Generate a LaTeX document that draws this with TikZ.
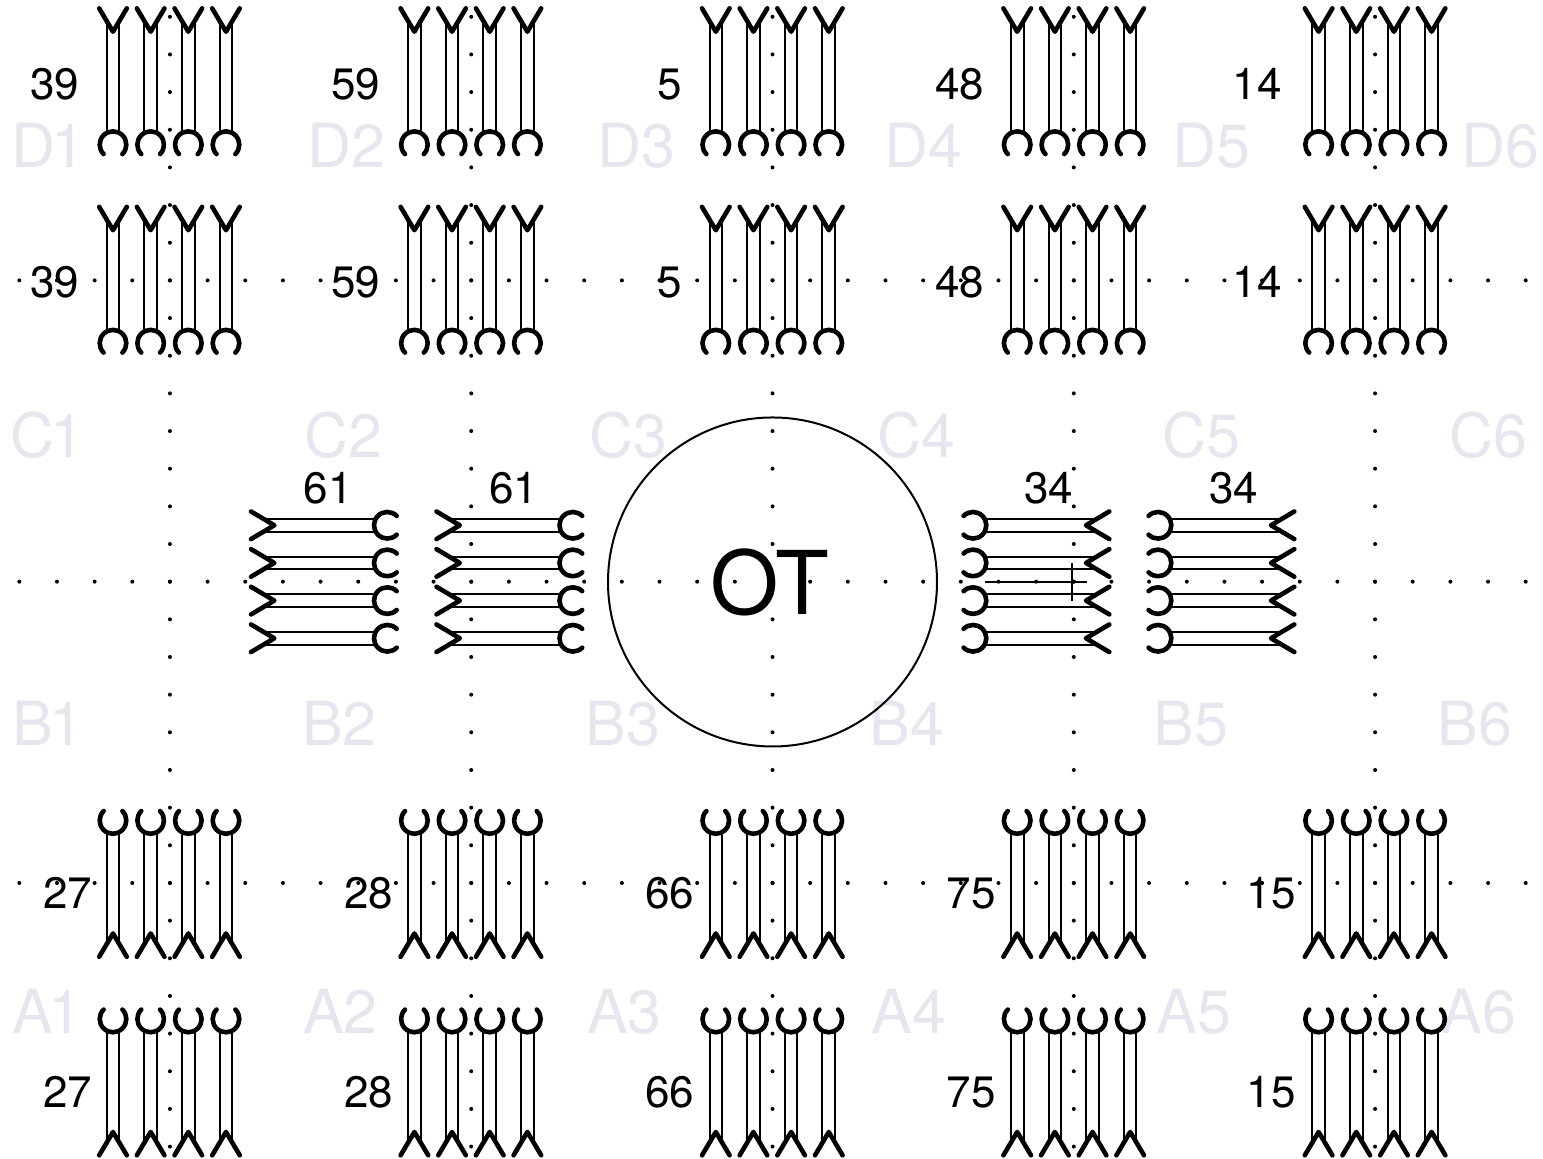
\documentclass[tikz,border=0pt]{standalone}
\usepackage{fontspec}
\setmainfont{TeX Gyre Heros}
\definecolor{faint}{HTML}{E6E6EF}
\newcommand{\lblfont}{\fontsize{22}{22}\selectfont}
\newcommand{\gridfont}{\fontsize{30.5}{30.5}\selectfont}
\newcommand{\otfont}{\fontsize{44}{44}\selectfont}
\tikzset{
  thinline/.style={line width=1pt,black},
  heavy/.style={line width=2.3pt,black,line cap=round,line join=round},
  griddot/.style={black},
  lbl/.style={anchor=base,inner sep=0pt,font=\lblfont},
  gridlbl/.style={anchor=base,inner sep=0pt,font=\gridfont,text=faint},
  plug/.pic={
    \draw[thinline] (-10.6,6.3) -- (101.3,6.3) (-10.6,-6.3) -- (101.3,-6.3);
    \draw[heavy] (-23.3,13.8) -- (0,0) -- (-23.3,-13.8);
    \draw[heavy] (113,0) ++(45:13.3) arc[start angle=45,end angle=315,radius=13.3];
  }
}
\begin{document}
\begin{tikzpicture}[x=.5pt,y=.5pt]
\useasboundingbox (0,0) rectangle (1543,1159);
% faint grid labels
\node[gridlbl] (gD1) at (48,1159-168) {D\kern-2pt 1};
\node[gridlbl] (gC1) at (47,1159-458) {C\kern-2pt 1};
\node[gridlbl] (gB1) at (48,1159-746) {B\kern-2pt 1};
\node[gridlbl] (gA1) at (47.5,1159-1034) {A\kern-2pt 1};
\foreach \t/\cx in {D2/346.5,D3/636,D4/923.5,D5/1211.5,D6/1500.5}
  \node[gridlbl] (g\t) at (\cx,1159-168) {\t};
\foreach \t/\cx in {C2/343,C3/628.5,C4/916,C5/1201.5,C6/1488.5}
  \node[gridlbl] (g\t) at (\cx,1159-458) {\t};
\foreach \t/\cx in {B2/339.5,B3/623,B4/907,B5/1191,B6/1475}
  \node[gridlbl] (g\t) at (\cx,1159-746) {\t};
\foreach \t/\cx in {A2/340.5,A3/624.5,A4/909,A5/1194,A6/1479}
  \node[gridlbl] (g\t) at (\cx,1159-1034) {\t};
% dot grid
\foreach \k in {-20,...,20}
  \foreach \ry in {280.4,581.7,883}
    \fill[griddot] ({772.5+37.66*\k},{1159-\ry}) circle[radius=2];
\foreach \c in {-16,-8,0,8,16}
  \foreach \k in {-15,...,15}
    \fill[griddot] ({772.5+37.66*\c},{1159-581.7-37.66*\k}) circle[radius=2];
% circle
\node[draw,circle,line width=1pt,minimum size=164.5pt,inner sep=0pt] (ot) at (772.5,1159-582) {};
\node[anchor=base,inner sep=0pt,font=\otfont] (otlabel) at (769.5,1159-615) {OT};
% vertical groups
\foreach \g in {0,1,2,3,4}
  \foreach \i in {0,1,2,3} {
    \pgfmathsetmacro{\px}{113+301.4*\g+37.66*\i}
    \pic[rotate=-90] at (\px,1159-31.7) {plug};
    \pic[rotate=-90] at (\px,1159-230.2) {plug};
    \pic[rotate=90] at (\px,1159-933.5) {plug};
    \pic[rotate=90] at (\px,1159-1132) {plug};
  }
% horizontal groups
\foreach \i in {0,1,2,3} {
  \pgfmathsetmacro{\py}{1159-525.3-37.66*\i}
  \pic at (274.3,\py) {plug};
  \pic at (459.8,\py) {plug};
  \pic[rotate=180] at (1086,\py) {plug};
  \pic[rotate=180] at (1271,\py) {plug};
}
% labels
\foreach \n/\t/\cx in {a/39/54.5,b/59/355.5,c/5/669.5,d/48/959.5,e/14/1257} {
  \node[lbl] (t\n) at (\cx,1159-100) {\t};
  \node[lbl] (u\n) at (\cx,1159-298) {\t};
}
\foreach \n/\t/\cx in {a/27/67.5,b/28/368.5,c/66/669.5,d/75/971,e/15/1271} {
  \node[lbl] (v\n) at (\cx,1159-909) {\t};
  \node[lbl] (w\n) at (\cx,1159-1108) {\t};
}
\foreach \n/\t/\cx in {a/61/328,b/61/513.5,c/34/1048.5,d/34/1233.5}
  \node[lbl] (h\n) at (\cx,1159-504) {\t};
% cross mark
\coordinate (ca) at (985,1159-581.7);
\coordinate (cb) at (1087,1159-581.7);
\coordinate (cc) at (1071.7,1159-562.7);
\coordinate (cd) at (1071.7,1159-601);
\draw[thinline] (ca) -- (cb);
\draw[thinline] (cc) -- (cd);
\end{tikzpicture}
\end{document}
